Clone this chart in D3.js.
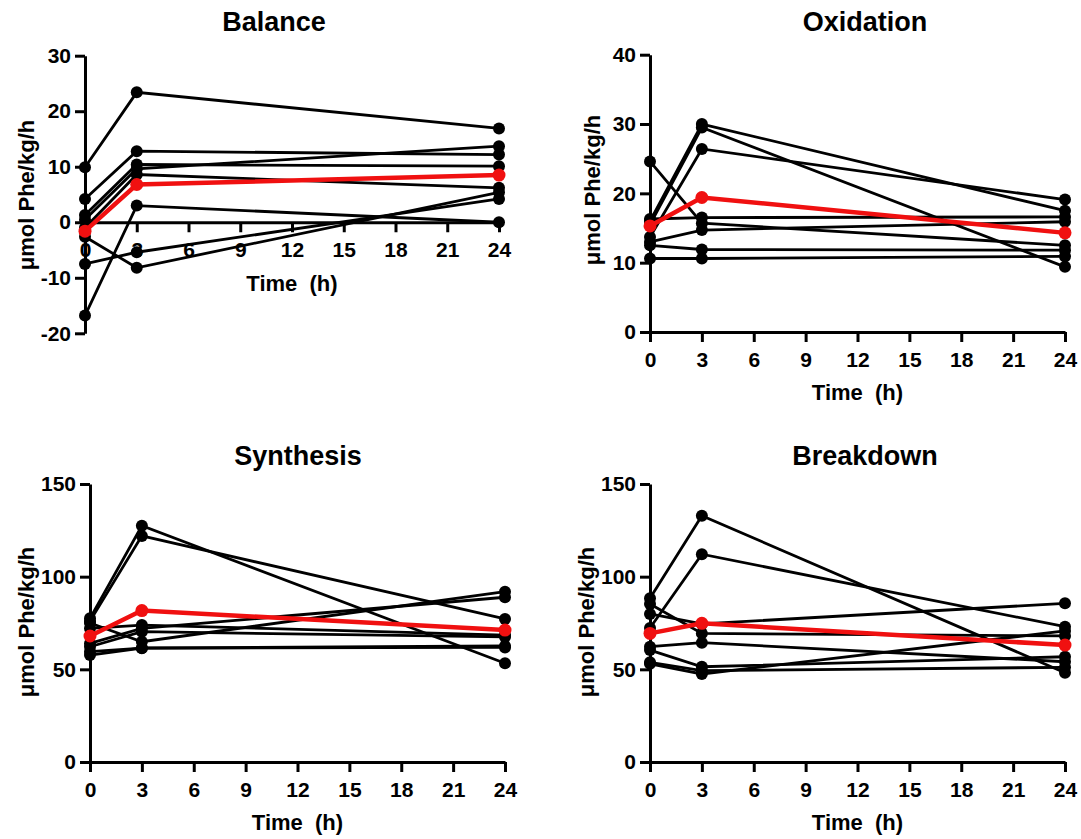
<!DOCTYPE html>
<html>
<head>
<meta charset="utf-8">
<script src="https://cdn.jsdelivr.net/npm/d3@7"></script>
<style>
  body { margin: 0; background: #fff; }
  svg text { font-family: "Liberation Sans", Arial, sans-serif; font-weight: bold; fill: #000; }
</style>
</head>
<body>
<div id="chart"></div>
<script>
// time points (h)
const times = [0, 3, 24];
const xTicks = [0, 3, 6, 9, 12, 15, 18, 21, 24];

// each row = one subject, values at 0, 3, 24 h
const balanceSubjects = [
  [9.9, 23.4, 16.9],
  [4.2, 12.8, 12.2],
  [1.3, 10.4, 10.1],
  [0.5, 9.6, 13.7],
  [-1.0, 8.6, 6.2],
  [-2.6, -8.2, 5.4],
  [-7.5, -5.4, 4.2],
  [-16.8, 3.0, 0.0]
];
const balanceMean = [-1.6, 6.8, 8.5];
const balanceTicks = [-20, -10, 0, 10, 20, 30];

const oxidationSubjects = [
  [24.6, 15.7, 12.5],
  [16.3, 16.5, 16.6],
  [16.0, 30.0, 17.5],
  [15.5, 29.5, 9.4],
  [13.7, 26.4, 19.1],
  [13.0, 14.7, 15.9],
  [12.5, 11.9, 11.8],
  [10.6, 10.6, 10.9]
];
const oxidationMean = [15.3, 19.4, 14.3];
const oxidationTicks = [0, 10, 20, 30, 40];

const synthesisSubjects = [
  [77.5, 127.5, 53.3],
  [76.0, 122.0, 77.2],
  [75.0, 64.9, 91.9],
  [72.1, 73.9, 68.5],
  [64.0, 72.1, 88.9],
  [62.2, 70.3, 67.5],
  [59.5, 61.4, 62.6],
  [57.7, 61.5, 61.8]
];
const synthesisMean = [68.0, 81.7, 71.2];
const synthesisTicks = [0, 50, 100, 150];

const breakdownSubjects = [
  [88.3, 132.9, 48.2],
  [85.3, 69.4, 68.0],
  [79.9, 74.5, 85.6],
  [72.3, 112.1, 73.0],
  [62.2, 64.4, 54.1],
  [60.4, 51.4, 56.8],
  [53.8, 49.3, 51.1],
  [53.0, 47.5, 70.7]
];
const breakdownMean = [69.4, 74.8, 63.1];
const breakdownTicks = [0, 50, 100, 150];

const yTitle = 'μmol Phe/kg/h';
const xTitle = 'Time  (h)';

const panels = [
  { title: 'Balance', subjects: balanceSubjects, mean: balanceMean, ticks: balanceTicks,
    x0: 85, x1: 499, yTop: 55.7, yBot: 333.3, axisAt: 0,
    titleX: 274, titleY: 22, yLabX: 26, yLabY: 195, timeY: 283 },
  { title: 'Oxidation', subjects: oxidationSubjects, mean: oxidationMean, ticks: oxidationTicks,
    x0: 650, x1: 1065, yTop: 54.7, yBot: 332, axisAt: 0,
    titleX: 865, titleY: 22, yLabX: 592, yLabY: 190, timeY: 392 },
  { title: 'Synthesis', subjects: synthesisSubjects, mean: synthesisMean, ticks: synthesisTicks,
    x0: 90, x1: 505, yTop: 484, yBot: 762, axisAt: 0,
    titleX: 298, titleY: 456, yLabX: 26, yLabY: 622, timeY: 822 },
  { title: 'Breakdown', subjects: breakdownSubjects, mean: breakdownMean, ticks: breakdownTicks,
    x0: 650, x1: 1065, yTop: 484, yBot: 762, axisAt: 0,
    titleX: 865, titleY: 456, yLabX: 586, yLabY: 622, timeY: 822 }
];

const svg = d3.select('#chart')
  .append('svg')
    .attr('width', 1081)
    .attr('height', 839);

function drawPanel(p) {
  const x = d3.scaleLinear().domain([0, 24]).range([p.x0, p.x1]);
  const y = d3.scaleLinear()
    .domain([d3.min(p.ticks), d3.max(p.ticks)])
    .range([p.yBot, p.yTop]);

  const g = svg.append('g');

  // title
  g.append('text')
    .attr('x', p.titleX)
    .attr('y', p.titleY)
    .attr('text-anchor', 'middle')
    .attr('dominant-baseline', 'central')
    .style('font-size', '27px')
    .text(p.title);

  // y axis
  const yAxis = d3.axisLeft(y)
    .tickValues(p.ticks)
    .tickSize(10)
    .tickSizeOuter(0)
    .tickPadding(4)
    .tickFormat(d => String(d));

  const yg = g.append('g')
    .attr('transform', 'translate(' + p.x0 + ',0)')
    .call(yAxis);

  // x axis, sits at y = 0
  const xAxis = d3.axisBottom(x)
    .tickValues(xTicks)
    .tickSize(10)
    .tickSizeOuter(0)
    .tickPadding(10)
    .tickFormat(d => String(d));

  const xg = g.append('g')
    .attr('transform', 'translate(0,' + y(p.axisAt) + ')')
    .call(xAxis);

  [yg, xg].forEach(a => {
    a.selectAll('path, line').attr('stroke', '#000').attr('stroke-width', 3);
    a.selectAll('text').style('font-size', '21px');
  });

  // axis titles
  g.append('text')
    .attr('x', (p.x0 + p.x1) / 2)
    .attr('y', p.timeY)
    .attr('text-anchor', 'middle')
    .attr('dominant-baseline', 'central')
    .style('font-size', '22px')
    .style('white-space', 'pre')
    .attr('xml:space', 'preserve')
    .text(xTitle);

  g.append('text')
    .attr('transform', 'translate(' + p.yLabX + ',' + p.yLabY + ') rotate(-90)')
    .attr('text-anchor', 'middle')
    .attr('dominant-baseline', 'central')
    .style('font-size', '22px')
    .text(yTitle);

  const line = d3.line()
    .x((d, i) => x(times[i]))
    .y(d => y(d));

  // subjects
  const subj = g.append('g');
  p.subjects.forEach(s => {
    subj.append('path')
      .datum(s)
      .attr('fill', 'none')
      .attr('stroke', '#000')
      .attr('stroke-width', 2.8)
      .attr('d', line);
    subj.selectAll(null)
      .data(s)
      .enter()
      .append('circle')
      .attr('cx', (d, i) => x(times[i]))
      .attr('cy', d => y(d))
      .attr('r', 6)
      .attr('fill', '#000');
  });

  // mean in red
  g.append('path')
    .datum(p.mean)
    .attr('fill', 'none')
    .attr('stroke', '#f01010')
    .attr('stroke-width', 4.5)
    .attr('d', line);
  g.selectAll('circle.mean')
    .data(p.mean)
    .enter()
    .append('circle')
    .attr('class', 'mean')
    .attr('cx', (d, i) => x(times[i]))
    .attr('cy', d => y(d))
    .attr('r', 6.5)
    .attr('fill', '#f01010');
}

panels.forEach(drawPanel);
</script>
</body>
</html>
